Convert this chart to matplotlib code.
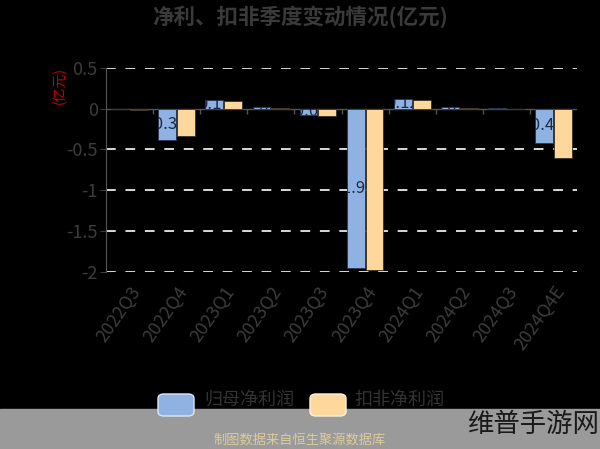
import numpy as np
import matplotlib
matplotlib.use("Agg")
import matplotlib.pyplot as plt
from matplotlib.patches import FancyBboxPatch, Rectangle

plt.rcParams['font.family'] = ['Noto Sans CJK SC', 'DejaVu Sans']

# 数据
quarters = ['2022Q3', '2022Q4', '2023Q1', '2023Q2', '2023Q3',
            '2023Q4', '2024Q1', '2024Q2', '2024Q3', '2024Q4E']
parent_profit = [-0.005, -0.39, 0.11, 0.02, -0.08, -1.96, 0.12, 0.02, 0.005, -0.42]
deducted_profit = [-0.02, -0.33, 0.10, 0.01, -0.09, -1.98, 0.11, 0.01, 0.0, -0.60]
labels = ['-0.01', '-0.39', '0.11', '0.02', '-0.08', '-1.96', '0.12', '0.02', '0.01', '-0.42']

blue = '#8fb2e2'
yellow = '#fed79d'
txt = '#3c3c3c'

fig = plt.figure(figsize=(6, 4.49), dpi=100, facecolor='black')
ax = fig.add_axes([0.1767, 0.395, 0.785, 0.4536], facecolor='black')

x = np.arange(len(quarters))
w = 0.38
bars = ax.bar(x - 0.2, parent_profit, w, color=blue, edgecolor='#2a3550', linewidth=0.6, zorder=3)
ax.bar(x + 0.2, deducted_profit, w, color=yellow, edgecolor='#3a3020', linewidth=0.6, zorder=3)

# 标签只在柱子里面看得见
for b, xi, v, lab in zip(bars, x, parent_profit, labels):
    t = ax.text(xi - 0.2, v / 2, lab, ha='center', va='center', color='#1c2a48',
                fontsize=12, zorder=4)
    t.set_clip_path(b)
    t.set_clip_on(True)

ax.set_xlim(-0.5, len(quarters) - 0.5)
ax.set_ylim(-2, 0.5)
ax.set_yticks([0.5, 0, -0.5, -1, -1.5, -2])
ax.set_yticklabels(['0.5', '0', '-0.5', '-1', '-1.5', '-2'])
for yv in [0.5, -0.5, -1, -1.5, -2]:
    ax.axhline(yv, color='#d8d8d8', linewidth=1.4, dashes=(5, 5), zorder=1)
ax.axhline(0, color='#555555', linewidth=1, zorder=2)
ax.vlines(x[1:] - 0.5, -0.06, 0, color='#555555', linewidth=1, zorder=2)

for s in ['top', 'right', 'bottom']:
    ax.spines[s].set_visible(False)
ax.spines['left'].set_color('#555555')
ax.tick_params(axis='y', colors=txt, labelsize=13, length=4, pad=2)
ax.tick_params(axis='x', length=0, pad=8)
ax.set_xticks(x)
ax.set_xticklabels(quarters, rotation=55, ha='right', va='top',
                   rotation_mode='anchor', color=txt, fontsize=13)

fig.text(0.5, 0.962, '净利、扣非季度变动情况(亿元)', ha='center', va='center',
         color='#3a3a3a', fontsize=15.5, fontweight='bold')
fig.text(0.1, 0.81, '(亿元)', rotation=90, ha='center', va='center',
         color='#cc0000', fontsize=10)

# 底部灰条和文字
fig.patches.append(Rectangle((0, 0), 1, 40 / 449, transform=fig.transFigure,
                             color='#9a9a9a', zorder=0))
fig.patches.append(FancyBboxPatch((158 / 600, 1 - 416 / 449), 36 / 600, 22 / 449,
                                  boxstyle='round,pad=0,rounding_size=0.01',
                                  transform=fig.transFigure, facecolor=blue,
                                  edgecolor='#dfe8f5', linewidth=1, zorder=2))
fig.patches.append(FancyBboxPatch((310 / 600, 1 - 416 / 449), 36 / 600, 22 / 449,
                                  boxstyle='round,pad=0,rounding_size=0.01',
                                  transform=fig.transFigure, facecolor=yellow,
                                  edgecolor='#fff3e0', linewidth=1, zorder=2))
fig.text(204 / 600, 1 - 400 / 449, '归母净利润', ha='left', va='center',
         color='#333333', fontsize=13)
fig.text(354 / 600, 1 - 400 / 449, '扣非净利润', ha='left', va='center',
         color='#333333', fontsize=13)
fig.text(0.5, 1 - 440 / 449, '制图数据来自恒生聚源数据库', ha='center', va='center',
         color='#dccb9e', fontsize=9.5)
fig.text(0.998, 1 - 424 / 449, '维普手游网', ha='right', va='center',
         color='#1a1a1a', fontsize=19)

fig.savefig('out.png', dpi=100, facecolor='black')
